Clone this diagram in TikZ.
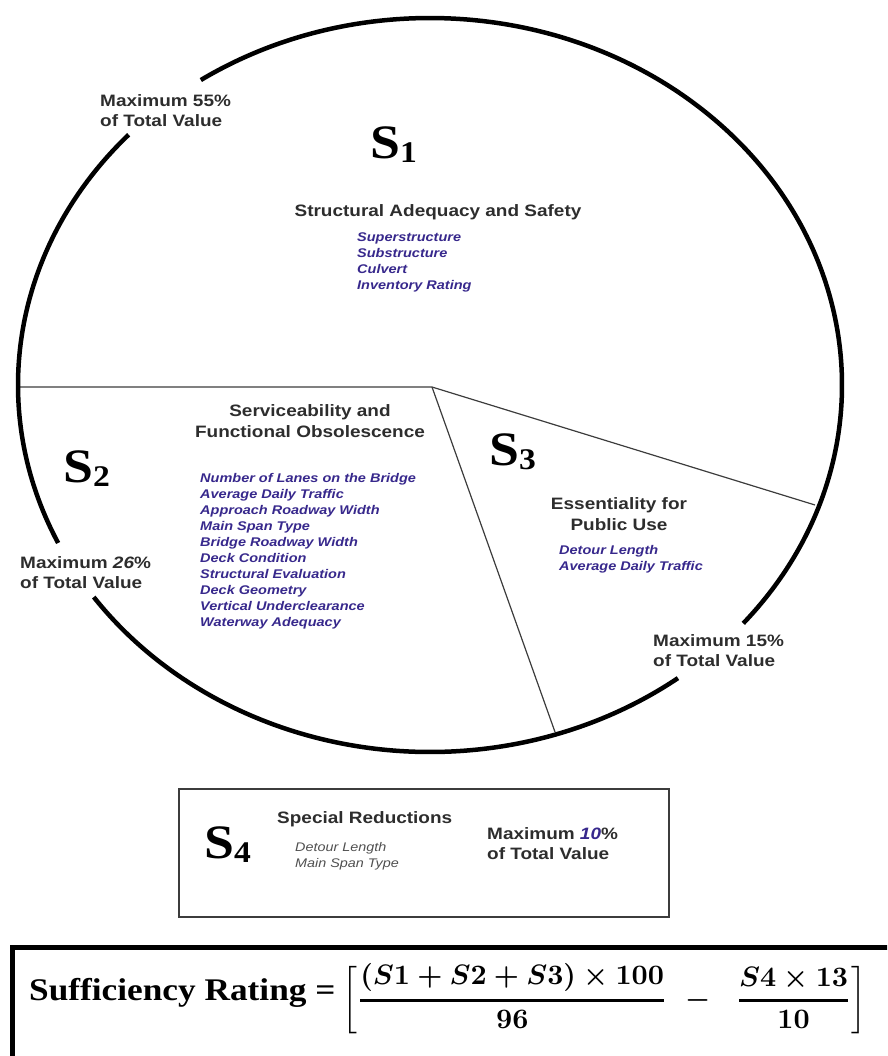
\documentclass[tikz,border=0pt]{standalone}
\usepackage{amsmath}
\usepackage{graphicx}
\usepackage{fontspec}
\usepackage{tikz}
\newfontfamily\lblfont[FakeStretch=1.15]{Liberation Sans}
\newfontfamily\sfont[FakeStretch=1.12]{Liberation Serif}
\definecolor{txtgray}{RGB}{45,45,45}
\definecolor{itemblue}{RGB}{55,40,140}
\definecolor{itemgray}{RGB}{80,80,80}
\definecolor{linegray}{RGB}{60,60,60}
\newcommand{\snum}[1]{\raisebox{-4pt}{\fontsize{30}{30}\selectfont #1}}
\newcommand{\rfrac}[2]{\genfrac{}{}{0.87pt}{0}{#1}{#2}}

\tikzset{
  maxlbl/.style={font=\lblfont\bfseries\fontsize{16.5}{20.5}\selectfont, text=txtgray, align=left, anchor=north west, inner sep=0pt},
  headlbl/.style={font=\lblfont\bfseries\fontsize{16.5}{21}\selectfont, text=txtgray, align=center, anchor=north, inner sep=0pt},
  itemlbl/.style={font=\lblfont\bfseries\itshape\fontsize{12.6}{16}\selectfont, text=itemblue, align=left, anchor=north west, inner sep=0pt},
  sname/.style={font=\sfont\bfseries\fontsize{48}{48}\selectfont, anchor=base west, inner sep=0pt},
  rim/.style={line width=4.5pt},
  split/.style={linegray, line width=1.2pt},
}

\begin{document}
\begin{tikzpicture}[x=1pt,y=1pt]
\useasboundingbox (0,0) rectangle (887,-1056);
\clip (0,0) rectangle (887,-1056);
% pie slices
\coordinate (ctr) at (432,-387);
\coordinate (w) at (18,-387);
\coordinate (se) at (815,-505);
\coordinate (s) at (555,-732);
\draw[split] (w) -- (ctr) -- (se);
\draw[split] (ctr) -- (s);
% rim, broken where the labels sit
\draw[rim] (430,-385) ++(137:412pt and 367pt) arc[start angle=137, end angle=205.5, x radius=412pt, y radius=367pt];
\draw[rim] (430,-385) ++(215.3:412pt and 367pt) arc[start angle=215.3, end angle=307, x radius=412pt, y radius=367pt];
\draw[rim] (430,-385) ++(319.5:412pt and 367pt) arc[start angle=319.5, end angle=483.8, x radius=412pt, y radius=367pt];

% S1
\node[maxlbl] (max1) at (100,-94) {Maximum 55\%\\of Total Value};
\node[sname] (s1) at (370,-159) {S\snum{1}};
\node[headlbl] (h1) at (438,-204) {Structural Adequacy and Safety};
\node[itemlbl] (i1) at (357,-233) {Superstructure\\Substructure\\Culvert\\Inventory Rating};

% S2
\node[headlbl] (h2) at (310,-404) {Serviceability and\\Functional Obsolescence};
\node[sname] (s2) at (63,-482) {S\snum{2}};
\node[itemlbl] (i2) at (200,-473) {Number of Lanes on the Bridge\\Average Daily Traffic\\Approach Roadway Width\\Main Span Type\\Bridge Roadway Width\\Deck Condition\\Structural Evaluation\\Deck Geometry\\Vertical Underclearance\\Waterway Adequacy};
\node[maxlbl] (max2) at (20,-556) {Maximum \textit{26}\%\\of Total Value};

% S3
\node[sname] (s3) at (489,-465) {S\snum{3}};
\node[headlbl] (h3) at (619,-497) {Essentiality for\\Public Use};
\node[itemlbl] (i3) at (559,-545) {Detour Length\\Average Daily Traffic};
\node[maxlbl] (max3) at (653,-634) {Maximum 15\%\\of Total Value};

% S4
\draw[linegray, line width=1.5pt] (179,-789) rectangle (669,-917);
\node[sname] (s4) at (204,-858) {S\snum{4}};
\node[headlbl, anchor=north west] (h4) at (277,-811) {Special Reductions};
\node[itemlbl, text=itemgray, font=\lblfont\itshape\fontsize{12.5}{16}\selectfont] (i4) at (295,-842) {Detour Length\\Main Span Type};
\node[maxlbl] (max4) at (487,-827) {Maximum {\color{itemblue}\textit{10}}\%\\of Total Value};

% rating
\draw[line width=5pt] (12,-947) rectangle (905,-1080);
\node[font=\sfont\bfseries\fontsize{31.5}{32}\selectfont, anchor=base west, inner sep=0pt] (rating) at (29,-1000) {Sufficiency Rating =};
\node[anchor=west, inner sep=0pt] (eqn) at (342,-999) {\resizebox{524pt}{!}{\boldmath$\left[\rfrac{(S1+S2+S3)\times100}{96}\,\,-\;\;\rfrac{S4\times13}{10}\right]$}};
\end{tikzpicture}
\end{document}
